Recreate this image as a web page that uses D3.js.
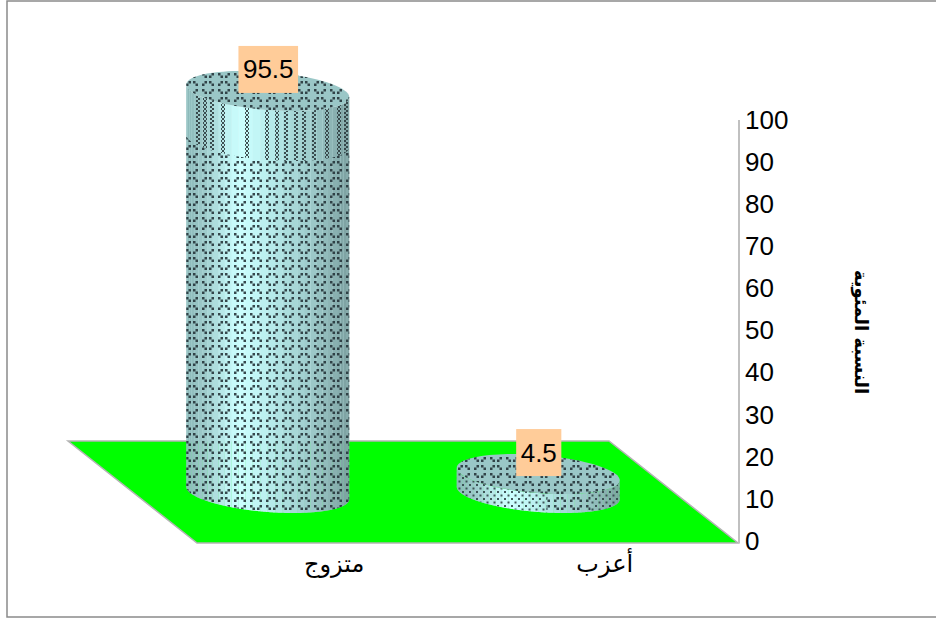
<!DOCTYPE html>
<html lang="ar">
<head>
<meta charset="utf-8">
<script src="https://cdn.jsdelivr.net/npm/d3@7"></script>
<style>
  html, body { margin: 0; padding: 0; background: #fff; }
  svg { display: block; }
</style>
</head>
<body>
<div id="chart"></div>
<script>
// Marital status shares, drawn as cylinders standing on a sheared floor.
const categories = ["متزوج", "أعزب"];
const values = [95.5, 4.5];
const yTicks = [0, 10, 20, 30, 40, 50, 60, 70, 80, 90, 100];
const yTitle = "النسبة المئوية";

const width = 936, height = 620;
const frontY = 543, backY = 441;
const floorDepth = frontY - backY;
const shear = 129 / floorDepth;

const y = d3.scaleLinear().domain([0, 100]).range([541, 120]);
const x = d3.scaleBand().domain(categories).range([197, 738]);

const svg = d3.select("#chart").append("svg")
  .attr("width", width).attr("height", height);
const defs = svg.append("defs");

// Dash-and-dot fill: rows of opposing short diagonals.
function addTile(id, size, dots, color, dot = 2) {
  const p = defs.append("pattern").attr("id", id)
    .attr("patternUnits", "userSpaceOnUse")
    .attr("width", size[0]).attr("height", size[1]);
  p.selectAll("rect").data(dots).join("rect")
    .attr("x", d => d[0]).attr("y", d => d[1])
    .attr("width", dot).attr("height", dot)
    .attr("fill", color).attr("fill-opacity", 0.9);
}
const back = (a, b) => [[a, b], [a + 2.5, b + 2.5]];
const fwd = (a, b) => [[a + 2.5, b], [a, b + 2.5]];
const diamondDots = [...back(1, 1), ...fwd(10, 1), ...fwd(1, 9), ...back(10, 9)];
addTile("diamond", [16, 16], diamondDots, "#26343a", 2.5);
addTile("zigzag", [4, 4], [[0, 0], [2, 2]], "#2f3d40");
addTile("fine", [7, 7], [[0, 1], [3.5, 4.5]], "#33474a");

// Frame
svg.append("rect")
  .attr("x", 7).attr("y", 1).attr("width", width).attr("height", 616)
  .attr("fill", "#fff").attr("stroke", "#8a8a8a").attr("stroke-width", 1.5);

// Floor
const floorPts = [
  [x.range()[0], frontY],
  [x.range()[1], frontY],
  [x.range()[1] - shear * floorDepth, backY],
  [x.range()[0] - shear * floorDepth, backY]
];
svg.append("path")
  .attr("d", d3.line()(floorPts) + "Z")
  .attr("fill", "#00ff00").attr("stroke", "#b4b4b4").attr("stroke-width", 1.5);

// Cylinder geometry: a circle on the floor plane, mapped through the shear.
const halfWidth = 81.5, ry = 20;
const skew = shear * ry;
const rx = Math.sqrt(halfWidth * halfWidth - skew * skew);
const tangent = Math.atan2(skew, rx);
const baseY = frontY - 50;
const cxOf = c => x(c) + x.bandwidth() / 2 - shear * floorDepth / 2;
const rimX = (cx, t) => cx + rx * Math.cos(t) + skew * Math.sin(t);
const rimY = (cy, t) => cy + ry * Math.sin(t);
const frontAngles = (a, b, n) => d3.range(n + 1).map(i => a + (b - a) * i / n);

function ellipsePath(cx, cy) {
  return d3.line()(frontAngles(0, 2 * Math.PI, 96).map(t => [rimX(cx, t), rimY(cy, t)])) + "Z";
}
function sidePath(cx, yTop, yBottom, a = tangent, b = tangent + Math.PI) {
  const ts = frontAngles(a, b, 48);
  const lower = ts.map(t => [rimX(cx, t), rimY(yBottom, t)]);
  const upper = ts.slice().reverse().map(t => [rimX(cx, t), rimY(yTop, t)]);
  return d3.line()(lower.concat(upper)) + "Z";
}

// Shading across the cylinder, from the left edge (0) to the right edge (1).
const shade = d3.scaleLinear()
  .domain([0, 0.12, 0.25, 0.33, 0.45, 0.6, 0.78, 0.92, 1])
  .range(["#8bb8b8", "#9fcdcd", "#bff2f2", "#ccffff", "#c0f4f4", "#acdfdf", "#9cc8c8", "#88afaf", "#7b9f9f"]);

const bandFractions = [0.07, 0.115, 0.16, 0.225, 0.375, 0.495, 0.555, 0.615, 0.675, 0.725, 0.785, 0.865, 0.935, 0.98];
const bandHeight = 50;
const facets = 34;

const bars = svg.append("g").selectAll("g")
  .data(categories.map((c, i) => ({ c, v: values[i], i })))
  .join("g");

bars.each(function (d) {
  const g = d3.select(this);
  const cx = cxOf(d.c);
  const h = y(0) - y(d.v);
  const top = baseY - h;
  const left = cx - halfWidth;
  const total = 2 * halfWidth;
  const clipId = "side-" + d.i;

  // Solid backing so only a trace of the floor shows through facet seams.
  g.append("path").attr("d", sidePath(cx, top, baseY))
    .attr("fill", "#b5e8e8").attr("fill-opacity", 0.6);

  // Faceted body: angle runs from the right edge round the front to the left.
  const steps = d3.range(facets);
  g.selectAll("path.facet").data(steps).join("path")
    .attr("class", "facet")
    .attr("d", k => {
      const a = tangent + Math.PI * k / facets;
      const b = tangent + Math.PI * (k + 1) / facets;
      return sidePath(cx, top, baseY, a, b);
    })
    .attr("fill", k => {
      const t = tangent + Math.PI * (k + 0.5) / facets;
      return shade((rimX(cx, t) - left) / total);
    });

  g.append("clipPath").attr("id", clipId)
    .append("path").attr("d", sidePath(cx, top, baseY));

  if (h > bandHeight) {
    // Tall body: diamond fill below, beaded columns under the rim.
    g.append("path")
      .attr("d", sidePath(cx, top + bandHeight, baseY))
      .attr("fill", "url(#diamond)");
    const bandClip = "band-" + d.i;
    g.append("clipPath").attr("id", bandClip)
      .append("path").attr("d", sidePath(cx, top, top + bandHeight));
    g.append("g").attr("clip-path", `url(#${bandClip})`)
      .selectAll("rect").data(bandFractions).join("rect")
      .attr("x", f => Math.round(left + f * total) - 2)
      .attr("y", top - 30).attr("width", 4).attr("height", bandHeight + 70)
      .attr("fill", "url(#zigzag)");
  } else {
    // Short body: fine dots on the flanks, diamond fill in the middle.
    const clipped = g.append("g").attr("clip-path", `url(#${clipId})`);
    const sections = [[0, 0.55, "fine"], [0.55, 0.82, "diamond"], [0.82, 1, "fine"]];
    clipped.selectAll("rect").data(sections).join("rect")
      .attr("x", s => left + s[0] * total)
      .attr("width", s => (s[1] - s[0]) * total)
      .attr("y", top - ry).attr("height", h + 3 * ry)
      .attr("fill", s => `url(#${s[2]})`);
  }

  // Top cap
  g.append("path").attr("d", ellipsePath(cx, top)).attr("fill", "#9ac7c7");
  g.append("path").attr("d", ellipsePath(cx, top)).attr("fill", "url(#diamond)");

  // Value label
  const text = g.append("text")
    .attr("x", cx + 0.5).attr("y", top - 12.5)
    .attr("text-anchor", "middle")
    .style("font", "26px 'Liberation Sans', Arial, sans-serif")
    .attr("fill", "#000")
    .text(d.v);
  const box = text.node().getBBox();
  g.insert("rect", "text")
    .attr("x", box.x - 4.5).attr("y", top - 45)
    .attr("width", box.width + 9).attr("height", 47)
    .attr("fill", "#ffcc99");
});

// Value axis on the right
const axis = svg.append("g")
  .attr("transform", "translate(739,0)")
  .call(d3.axisRight(y).tickValues(yTicks).tickSize(0).tickPadding(6));
axis.select(".domain").remove();
axis.selectAll("text")
  .style("font", "26px 'Liberation Sans', Arial, sans-serif")
  .attr("fill", "#000");
svg.append("path")
  .attr("d", d3.line()([[739, y(100)], [739, frontY]]))
  .attr("stroke", "#c0c0c0").attr("stroke-width", 2).attr("fill", "none");

// Category labels along the front edge of the floor
svg.append("g").selectAll("text").data(categories).join("text")
  .attr("x", c => x(c) + x.bandwidth() / 2 + 2)
  .attr("y", 572)
  .attr("text-anchor", "middle")
  .style("font", "24px 'DejaVu Sans', sans-serif")
  .attr("fill", "#000")
  .text(c => c);

// Axis title
svg.append("text")
  .attr("transform", "translate(855,332) rotate(90)")
  .attr("text-anchor", "middle")
  .style("font", "bold 18px 'DejaVu Sans', sans-serif")
  .attr("fill", "#000")
  .text(yTitle);
</script>
</body>
</html>
